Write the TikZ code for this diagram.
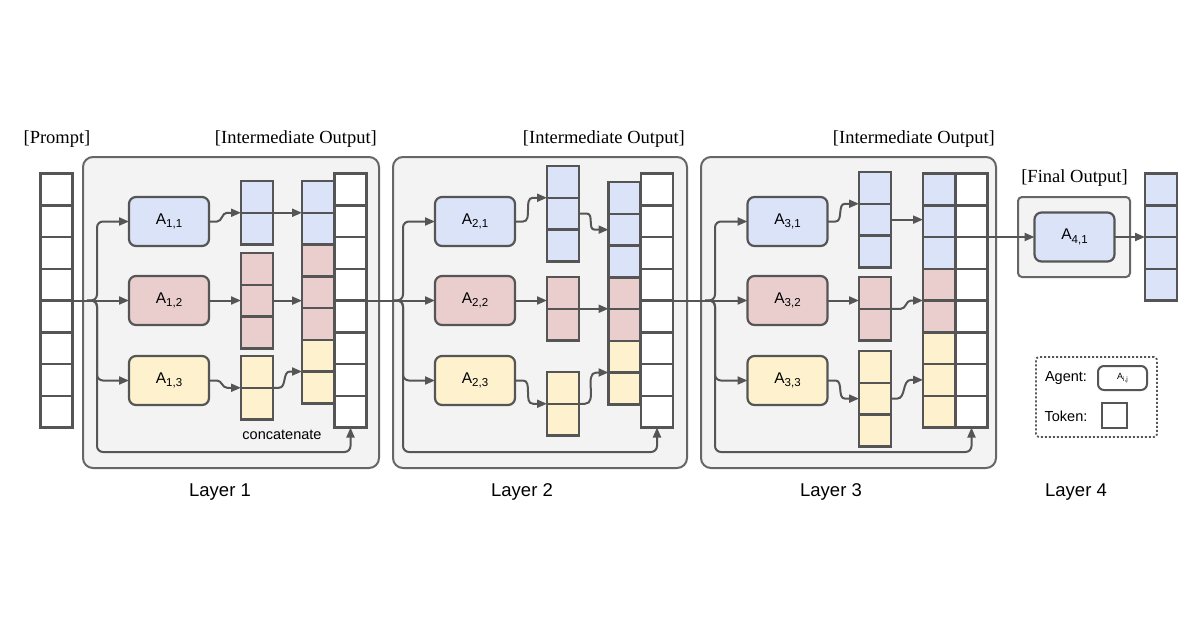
\documentclass[tikz,border=0pt]{standalone}
\usepackage{fontspec}
\setmainfont{Liberation Serif}
\setsansfont{Liberation Sans}
\usetikzlibrary{arrows.meta,calc}
\definecolor{lineC}{RGB}{85,85,85}
\definecolor{boxC}{RGB}{102,102,102}
\definecolor{bgC}{RGB}{243,243,243}
\definecolor{bl}{RGB}{218,227,248}
\definecolor{rd}{RGB}{234,206,206}
\definecolor{yl}{RGB}{253,242,205}
\definecolor{wh}{RGB}{255,255,255}
\newcommand\agl[1]{A\raisebox{-0.4ex}{\fontsize{11.5}{11.5}\selectfont #1}}
\newcommand\tokcolumn[4]{\foreach \cc [count=\ii] in {#4} {\node[tok, fill=\cc] (#1-\ii) at (#2, {#3+(\ii-0.5)*31.75}) {};}}
\tikzset{
  tok/.style={draw=lineC, line width=2.5pt, minimum width=32pt, minimum height=31.75pt, inner sep=0pt, outer sep=0pt},
  agent/.style={draw=lineC, line width=2.2pt, rounded corners=7pt, minimum width=80pt, minimum height=49pt, inner sep=0pt, outer sep=0pt, font=\sffamily\fontsize{15.5}{17}\selectfont},
  layerbox/.style={draw=boxC, fill=bgC, line width=2pt, rounded corners=10pt, inner sep=0pt},
  arr/.style={draw=lineC, line width=2pt, -{Triangle[length=10pt,width=8pt]}},
  ln/.style={draw=lineC, line width=2pt},
  lbl/.style={font=\fontsize{18.5}{20}\selectfont, inner sep=0pt},
  layerlbl/.style={font=\sffamily\fontsize{18.5}{20}\selectfont, inner sep=0pt},
  small/.style={font=\sffamily\fontsize{14.5}{16}\selectfont, inner sep=0pt},
}
\begin{document}
\begin{tikzpicture}[x=1pt,y=-1pt]
\useasboundingbox[fill=white] (0,0) rectangle (1200,630);

% layer boxes
\node[layerbox, minimum width=296pt, minimum height=311pt] (L1) at (231,312.5) {};
\node[layerbox, minimum width=294pt, minimum height=311pt] (L2) at (540,312.5) {};
\node[layerbox, minimum width=295pt, minimum height=311pt] (L3) at (848.5,312.5) {};
\node[layerbox, rounded corners=4pt, minimum width=112pt, minimum height=80pt] (L4) at (1074,237) {};

% labels
\node[lbl] (tp) at (57,139) {[Prompt]};
\node[lbl, anchor=east] (ti1) at (377,139) {[Intermediate Output]};
\node[lbl, anchor=east] (ti2) at (685,139) {[Intermediate Output]};
\node[lbl, anchor=east] (ti3) at (995,139) {[Intermediate Output]};
\node[lbl] (tf) at (1074.5,178) {[Final Output]};
\node[layerlbl] (ly1) at (220,492) {Layer 1};
\node[layerlbl] (ly2) at (522,492) {Layer 2};
\node[layerlbl] (ly3) at (831,492) {Layer 3};
\node[layerlbl] (ly4) at (1076,492) {Layer 4};
\node[small] (cc) at (282,435) {concatenate};

% prompt
\tokcolumn{P}{56.5}{173.5}{wh,wh,wh,wh,wh,wh,wh,wh}

% ---------- Layer 1 ----------
\node[agent, fill=bl] (a11) at (169,221.5) {\agl{1,1}};
\node[agent, fill=rd] (a12) at (169,300.5) {\agl{1,2}};
\node[agent, fill=yl] (a13) at (169,380.5) {\agl{1,3}};
\tokcolumn{o11}{257}{181}{bl,bl}
\tokcolumn{o12}{257}{253}{rd,rd,rd}
\tokcolumn{o13}{257}{356}{yl,yl}
\tokcolumn{w1}{350.5}{173.5}{wh,wh,wh,wh,wh,wh,wh,wh}
\tokcolumn{c1}{318}{181}{bl,bl,rd,rd,rd,yl,yl}
\coordinate (b1) at (97,300.5);

% ---------- Layer 2 ----------
\node[agent, fill=bl] (a21) at (475,221.5) {\agl{2,1}};
\node[agent, fill=rd] (a22) at (475,300.5) {\agl{2,2}};
\node[agent, fill=yl] (a23) at (475,380.5) {\agl{2,3}};
\tokcolumn{o21}{563}{166}{bl,bl,bl}
\tokcolumn{o22}{563}{277}{rd,rd}
\tokcolumn{o23}{563}{372}{yl,yl}
\tokcolumn{w2}{657}{173.5}{wh,wh,wh,wh,wh,wh,wh,wh}
\tokcolumn{c2}{624.5}{182}{bl,bl,bl,rd,rd,yl,yl}
\coordinate (b2) at (403,300.5);

% ---------- Layer 3 ----------
\node[agent, fill=bl] (a31) at (787.5,221.5) {\agl{3,1}};
\node[agent, fill=rd] (a32) at (787.5,300.5) {\agl{3,2}};
\node[agent, fill=yl] (a33) at (787.5,380.5) {\agl{3,3}};
\tokcolumn{o31}{875}{172}{bl,bl,bl}
\tokcolumn{o32}{875}{277}{rd,rd}
\tokcolumn{o33}{875}{351}{yl,yl,yl}
\tokcolumn{w3}{971.5}{173.5}{wh,wh,wh,wh,wh,wh,wh,wh}
\tokcolumn{c3}{939}{173.5}{bl,bl,bl,rd,rd,yl,yl,yl}
\coordinate (b3) at (715,300.5);

% ---------- Layer 4 ----------
\node[agent, fill=bl] (a41) at (1074.5,237) {\agl{4,1}};
\tokcolumn{o41}{1161}{173.5}{bl,bl,bl,bl}

% ---------- legend ----------
\node[draw=lineC, line width=1.8pt, dash pattern=on 2pt off 2pt, rounded corners=3pt, minimum width=121pt, minimum height=80pt] (leg) at (1096.5,397) {};
\node[small] (lagent) at (1066,378) {Agent:};
\node[draw=lineC, line width=2pt, rounded corners=6pt, minimum width=49pt, minimum height=24pt, inner sep=0pt, fill=white, font=\sffamily\fontsize{9}{10}\selectfont] (lag) at (1122.5,378) {A\raisebox{-0.3ex}{\fontsize{6.5}{6.5}\selectfont i,j}};
\node[small] (ltok) at (1066,416) {Token:};
\node[tok, line width=2pt, minimum width=25pt, minimum height=25pt, fill=white] (ltk) at (1114.5,415.5) {};

% ---------- connectors layer 1 ----------
\draw[arr] (P-4.south east) -- (a12.west);
\draw[arr, rounded corners=6pt] ($(b1)+(-10,0)$) -| (b1 |- a11.west) -- (a11.west);
\draw[arr, rounded corners=6pt] ($(b1)+(-10,0)$) -| (b1 |- a13.west) -- (a13.west);
\draw[arr, rounded corners=6pt] ($(b1)+(-10,0)$) -| ($(b1)+(0,151.5)$) -| (w1-8.south);
\draw[arr] (a11.east) -- ++(8,0) to[out=0,in=180] ($(o11-1.south west)+(-14,0)$) -- (o11-1.south west);
\draw[arr] (o11-1.south east) -- (c1-1.south west);
\draw[arr] (a12.east) -- (a12.east -| o12-2.west);
\draw[arr] (o12-2.east) -- (o12-2.east -| c1-4.west);
\draw[arr] (a13.east) -- ++(8,0) to[out=0,in=180] ($(o13-1.south west)+(-14,0)$) -- (o13-1.south west);
\draw[arr] (o13-1.south east) -- ++(6,0) to[out=0,in=180] ($(c1-6.south west)+(-12,0)$) -- (c1-6.south west);

% ---------- connectors layer 2 ----------
\draw[arr] (w1-4.south east) -- (a22.west);
\draw[arr, rounded corners=6pt] ($(b2)+(-10,0)$) -| (b2 |- a21.west) -- (a21.west);
\draw[arr, rounded corners=6pt] ($(b2)+(-10,0)$) -| (b2 |- a23.west) -- (a23.west);
\draw[arr, rounded corners=6pt] ($(b2)+(-10,0)$) -| ($(b2)+(0,151.5)$) -| (w2-8.south);
\draw[arr] (a21.east) -- ++(8,0) to[out=0,in=180] ($(o21-1.south west)+(-14,0)$) -- (o21-1.south west);
\draw[arr] (o21-2.east) -- ++(8,0) to[out=0,in=180] ($(c2-2.west)+(-14,0)$) -- (c2-2.west);
\draw[arr] (a22.east) -- (a22.east -| o22-1.west);
\draw[arr] (o22-1.south east) -- (o22-1.south east -| c2-4.west);
\draw[arr] (a23.east) -- ++(8,0) to[out=0,in=180] ($(o23-1.south west)+(-14,0)$) -- (o23-1.south west);
\draw[arr] (o23-1.south east) -- ++(6,0) to[out=0,in=180] ($(c2-6.south west)+(-12,0)$) -- (c2-6.south west);

% ---------- connectors layer 3 ----------
\draw[arr] (w2-4.south east) -- (a32.west);
\draw[arr, rounded corners=6pt] ($(b3)+(-10,0)$) -| (b3 |- a31.west) -- (a31.west);
\draw[arr, rounded corners=6pt] ($(b3)+(-10,0)$) -| (b3 |- a33.west) -- (a33.west);
\draw[arr, rounded corners=6pt] ($(b3)+(-10,0)$) -| ($(b3)+(0,151.5)$) -| (w3-8.south);
\draw[arr] (a31.east) -- ++(8,0) to[out=0,in=180] ($(o31-1.south west)+(-14,0)$) -- (o31-1.south west);
\draw[arr] (o31-2.east) -- (o31-2.east -| c3-2.west);
\draw[arr] (a32.east) -- (a32.east -| o32-1.west);
\draw[arr] (o32-1.south east) -- ++(10,0) to[out=0,in=180] ($(c3-4.south west)+(-12,0)$) -- (c3-4.south west);
\draw[arr] (a33.east) -- ++(8,0) to[out=0,in=180] ($(o33-2.west)+(-14,0)$) -- (o33-2.west);
\draw[arr] (o33-2.east) -- ++(6,0) to[out=0,in=180] ($(c3-7.west)+(-12,0)$) -- (c3-7.west);

% ---------- to layer 4 ----------
\draw[arr] (w3-2.south east) -- (a41.west);
\draw[arr] (a41.east) -- (o41-2.south west);
\end{tikzpicture}
\end{document}
